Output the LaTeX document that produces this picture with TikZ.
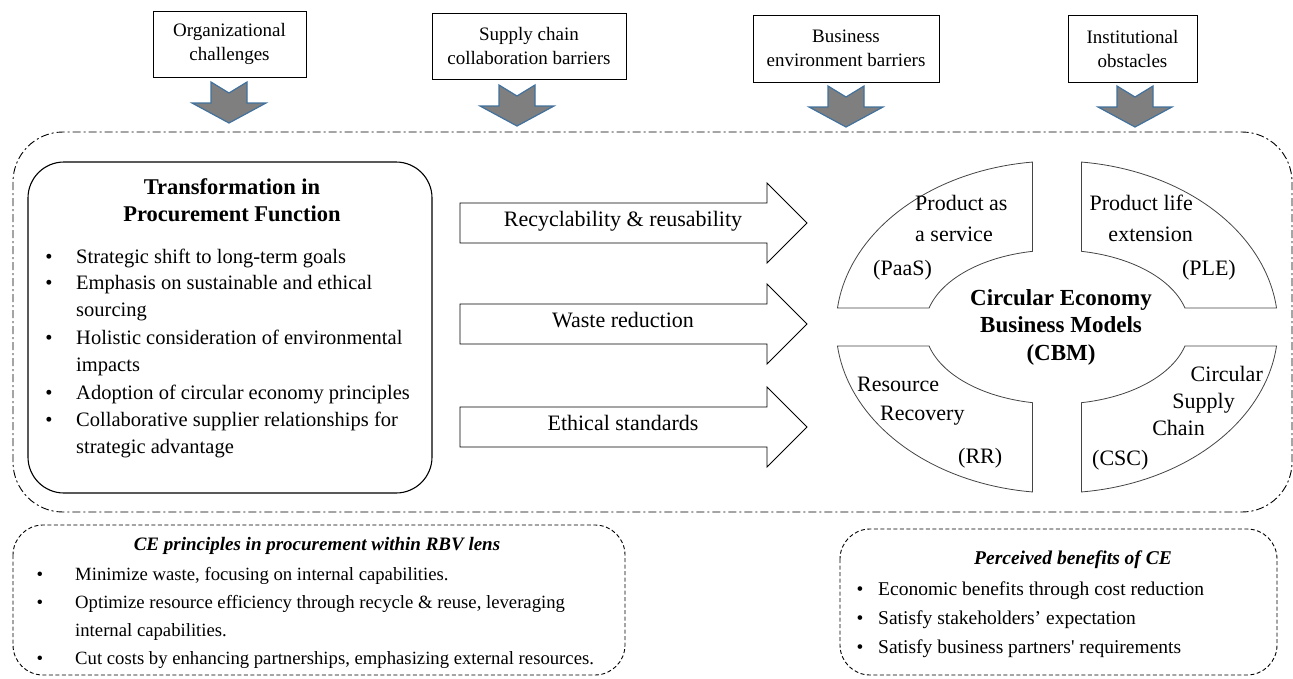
\documentclass[tikz,border=0pt]{standalone}
\usepackage{fontspec}
\setmainfont{Liberation Serif}
\definecolor{arrgray}{HTML}{7F7F7F}
\definecolor{arrblue}{HTML}{41719C}
\definecolor{quadline}{HTML}{444444}
\begin{document}
\begin{tikzpicture}[x=1pt,y=-1pt,
  topbox/.style={draw, line width=1pt, align=center, inner sep=0pt,
    font=\fontsize{19}{24}\selectfont},
  t/.style={inner sep=0pt, text height=0.8em, text depth=0.2em},
  body/.style={t, font=\fontsize{20.5}{25}\selectfont},
  quad/.style={t, font=\fontsize{22}{26}\selectfont},
  small/.style={t, font=\fontsize{19.5}{24}\selectfont},
  smallL/.style={t, font=\fontsize{18.7}{23}\selectfont},
  rlabel/.style={t, font=\fontsize{22}{26}\selectfont},
  downarr/.pic={\draw[fill=arrgray, draw=arrblue, line width=1.2pt, line join=miter]
    (-18,0) -- (0,11) -- (18,0) -- (18,21) -- (37,21) -- (0,41) -- (-37,21) -- (-18,21) -- cycle;},
  rarr/.pic={\draw[fill=white, line width=0.9pt, line join=miter]
    (0,-20) -- (307,-20) -- (307,-40) -- (347,0) -- (307,40) -- (307,20) -- (0,20) -- cycle;},
  quadpiece/.style={draw=quadline, line width=0.8pt, fill=white},
  dashdot/.style={line width=0.9pt, dash pattern=on 8pt off 3pt on 2pt off 3pt},
  dashbox/.style={line width=0.9pt, dash pattern=on 4pt off 2.5pt}
]
\useasboundingbox (0,0) rectangle (1293,678);

% top boxes
\node[topbox, minimum width=153pt, minimum height=66pt] (b1) at (229.5,44) {Organizational\\challenges};
\node[topbox, minimum width=194pt, minimum height=66pt] (b2) at (529,46) {Supply chain\\collaboration barriers};
\node[topbox, minimum width=186pt, minimum height=67pt] (b3) at (846,48.5) {Business\\environment barriers};
\node[topbox, minimum width=129pt, minimum height=67pt] (b4) at (1132.5,48.5) {Institutional\\obstacles};

% gray down arrows
\pic at (229,82) {downarr};
\pic at (517,85) {downarr};
\pic at (846,86) {downarr};
\pic at (1135,86) {downarr};

% outer dash-dot frame
\draw[dashdot, rounded corners=50pt] (13,132) rectangle (1292,512);

% transformation box
\draw[line width=1.1pt, rounded corners=36pt] (28,162) rectangle (432,493);
\node[t, font=\fontsize{22.5}{27}\bfseries] (tt1) at (232,191) {Transformation in};
\node[t, font=\fontsize{22.5}{27}\bfseries] (tt2) at (232,218) {Procurement Function};
\foreach \y/\s in {260/Strategic shift to long-term goals,
                   286/Emphasis on sustainable and ethical,
                   341/Holistic consideration of environmental,
                   396/Adoption of circular economy principles,
                   423/Collaborative supplier relationships for}{
  \node[body] at (49,\y) {•};
  \node[body, anchor=west] at (76,\y) {\s};
}
\node[body, anchor=west] (c1) at (76,313) {sourcing};
\node[body, anchor=west] (c2) at (76,368) {impacts};
\node[body, anchor=west] (c3) at (76,450) {strategic advantage};

% block arrows
\pic at (460,223) {rarr};
\pic at (460,324) {rarr};
\pic at (460,427) {rarr};
\node[rlabel] (r1) at (623,223) {Recyclability \& reusability};
\node[rlabel] (r2) at (623,324) {Waste reduction};
\node[rlabel] (r3) at (623,427) {Ethical standards};

% CBM quadrants
\def\cx{1057}\def\cy{327}
\draw[quadpiece] plot[domain=96.37:173.43, samples=40] ({\cx+221*cos(\x)},{\cy-166*sin(\x)})
   -- plot[domain=165.71:100.70, samples=40] ({\cx+132*cos(\x)},{\cy-77*sin(\x)}) -- cycle;
\draw[quadpiece] plot[domain=6.57:83.63, samples=40] ({\cx+221*cos(\x)},{\cy-166*sin(\x)})
   -- plot[domain=79.30:14.29, samples=40] ({\cx+132*cos(\x)},{\cy-77*sin(\x)}) -- cycle;
\draw[quadpiece] plot[domain=186.57:263.63, samples=40] ({\cx+221*cos(\x)},{\cy-166*sin(\x)})
   -- plot[domain=259.30:194.29, samples=40] ({\cx+132*cos(\x)},{\cy-77*sin(\x)}) -- cycle;
\draw[quadpiece] plot[domain=276.37:353.43, samples=40] ({\cx+221*cos(\x)},{\cy-166*sin(\x)})
   -- plot[domain=345.71:280.70, samples=40] ({\cx+132*cos(\x)},{\cy-77*sin(\x)}) -- cycle;

\node[quad, anchor=west] (q1a) at (915,207) {Product as};
\node[quad, anchor=west] (q1b) at (915,238) {a service};
\node[quad, anchor=west] (q1c) at (873,272) {(PaaS)};
\node[quad, anchor=east] (q2a) at (1193,207) {Product life};
\node[quad, anchor=east] (q2b) at (1193,238) {extension};
\node[quad, anchor=east] (q2c) at (1236,272) {(PLE)};
\node[quad, anchor=west] (q3a) at (857,388) {Resource};
\node[quad, anchor=west] (q3b) at (880,417) {Recovery};
\node[quad, anchor=west] (q3c) at (958,460) {(RR)};
\node[quad, anchor=east] (q4a) at (1263,378) {Circular};
\node[quad, anchor=east] (q4b) at (1235,405) {Supply};
\node[quad, anchor=east] (q4c) at (1205,432) {Chain};
\node[quad, anchor=west] (q4d) at (1092,462) {(CSC)};
\node[t, font=\fontsize{23}{27}\bfseries] (cbm1) at (1061,302) {Circular Economy};
\node[t, font=\fontsize{23}{27}\bfseries] (cbm2) at (1061,329) {Business Models};
\node[t, font=\fontsize{23}{27}\bfseries] (cbm3) at (1061,357) {(CBM)};

% bottom-left dashed box
\draw[dashbox, rounded corners=30pt] (13,525) rectangle (625,675);
\node[smallL, font=\fontsize{19}{24}\bfseries\itshape] (lt) at (317,547) {CE principles in procurement within RBV lens};
\foreach \y/\s in {577/Minimize waste{,} focusing on internal capabilities.,
                   605/Optimize resource efficiency through recycle \& reuse{,} leveraging,
                   661/Cut costs by enhancing partnerships{,} emphasizing external resources.}{
  \node[smallL] at (40,\y) {•};
  \node[smallL, anchor=west] at (75,\y) {\s};
}
\node[smallL, anchor=west] (l3) at (75,633) {internal capabilities.};

% bottom-right dashed box
\draw[dashbox, rounded corners=30pt] (840,529) rectangle (1277,675);
\node[small, font=\fontsize{19.5}{24}\bfseries\itshape] (rt) at (1073,561) {Perceived benefits of CE};
\foreach \y/\s in {592/Economic benefits through cost reduction,
                   621/Satisfy stakeholders’ expectation,
                   650/Satisfy business partners\textquotesingle{} requirements}{
  \node[small] at (860,\y) {•};
  \node[small, anchor=west] at (878,\y) {\s};
}
\end{tikzpicture}
\end{document}
